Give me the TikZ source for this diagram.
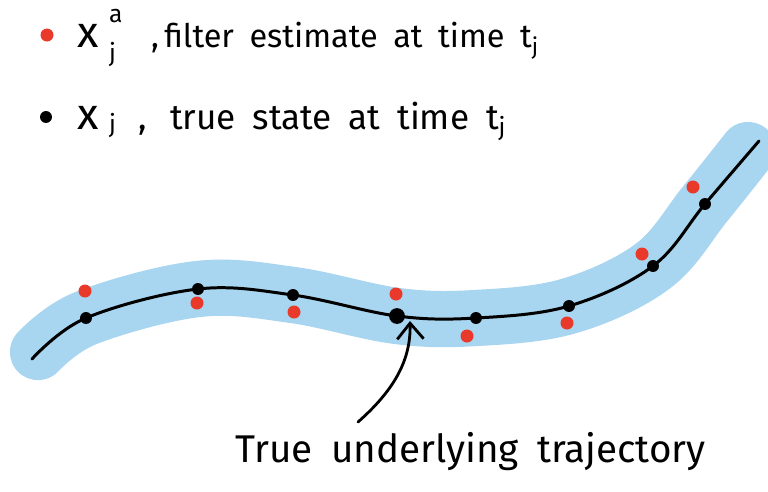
\documentclass[tikz,border=0pt]{standalone}
\usepackage{fontspec}
\setmainfont{Fira Sans}
\newfontfamily\legendfont[WordSpace=2.2]{Fira Sans}
\newfontfamily\captionfont[WordSpace=1.8]{Fira Sans}
\usetikzlibrary{arrows.meta}
\definecolor{bandblue}{RGB}{168,213,239}
\definecolor{estred}{RGB}{233,57,42}
\newcommand{\bigx}{{\fontsize{25}{25}\selectfont x}}
\newcommand{\scr}[1]{{\fontsize{14}{14}\selectfont #1}}
\begin{document}
\begin{tikzpicture}[x=0.02cm,y=-0.02cm,line cap=round,line join=round,
  truedot/.style={circle,fill=black,inner sep=0pt,minimum size=6.8pt},
  estdot/.style={circle,fill=estred,inner sep=0pt,minimum size=7.4pt},
  legend/.style={anchor=base west,inner sep=0pt,font=\legendfont\fontsize{18.5}{22}\selectfont}]
  \useasboundingbox (0,0) rectangle (768,491);
  % points of the true trajectory
  \coordinate (s) at (32,359);
  \coordinate (f) at (759,141);
  \foreach \n/\x/\y in {1/86/318,2/198/289,3/293/295,4/397/316,5/476/318,6/569/306,7/653/266,8/705/204} {
    \coordinate (t\n) at (\x,\y);
  }
  % uncertainty band
  \draw[bandblue,line width=32pt] plot[smooth,tension=0.6] coordinates {(38,352) (t1) (t2) (t3) (t4) (t5) (t6) (t7) (t8) (748,150)};
  \draw[line width=1.7pt] plot[smooth,tension=0.6] coordinates {(s) (t1) (t2) (t3) (t4) (t5) (t6) (t7) (t8) (f)};
  \foreach \n in {1,2,3,5,6,7,8} {
    \node[truedot] (x\n) at (t\n) {};
  }
  \node[truedot,minimum size=9pt] (x4) at (t4) {};
  % filter estimates
  \foreach \n/\x/\y in {1/85/291,2/197/303,3/294/312,4/396/294,5/467/336,6/567/323,7/642/254,8/693/187} {
    \node[estdot] (e\n) at (\x,\y) {};
  }
  % legend
  \node[estdot] (lgreddot) at (47,35) {};
  \node[truedot] (lgblackdot) at (46,117) {};
  \node[legend] (lgest) at (77,47) {\bigx\hspace{6pt}\rlap{\raisebox{14pt}{\scr{a}}}\raisebox{-8pt}{\scr{j}}\hspace{20pt},\hspace{3pt}filter estimate at time t\textsubscript{j}};
  \node[legend,font=\legendfont\fontsize{20}{22}\selectfont] (lgtrue) at (77,129) {\bigx\hspace{6pt}\raisebox{-2pt}{\scr{j}}\hspace{13pt},\hspace{13pt}true state at time t\textsubscript{j}};
  % caption and arrow
  \node[anchor=base west,inner sep=0pt,font=\captionfont\fontsize{22}{26}\selectfont] (caption) at (235,462) {True underlying trajectory};
  \coordinate (tail) at (358,422);
  \coordinate (tip) at (410,321);
  \draw[-{Straight Barb[length=9pt,width=15pt]},line width=1.6pt] (tail) .. controls (392,392) and (411,362) .. (tip);
\end{tikzpicture}
\end{document}
